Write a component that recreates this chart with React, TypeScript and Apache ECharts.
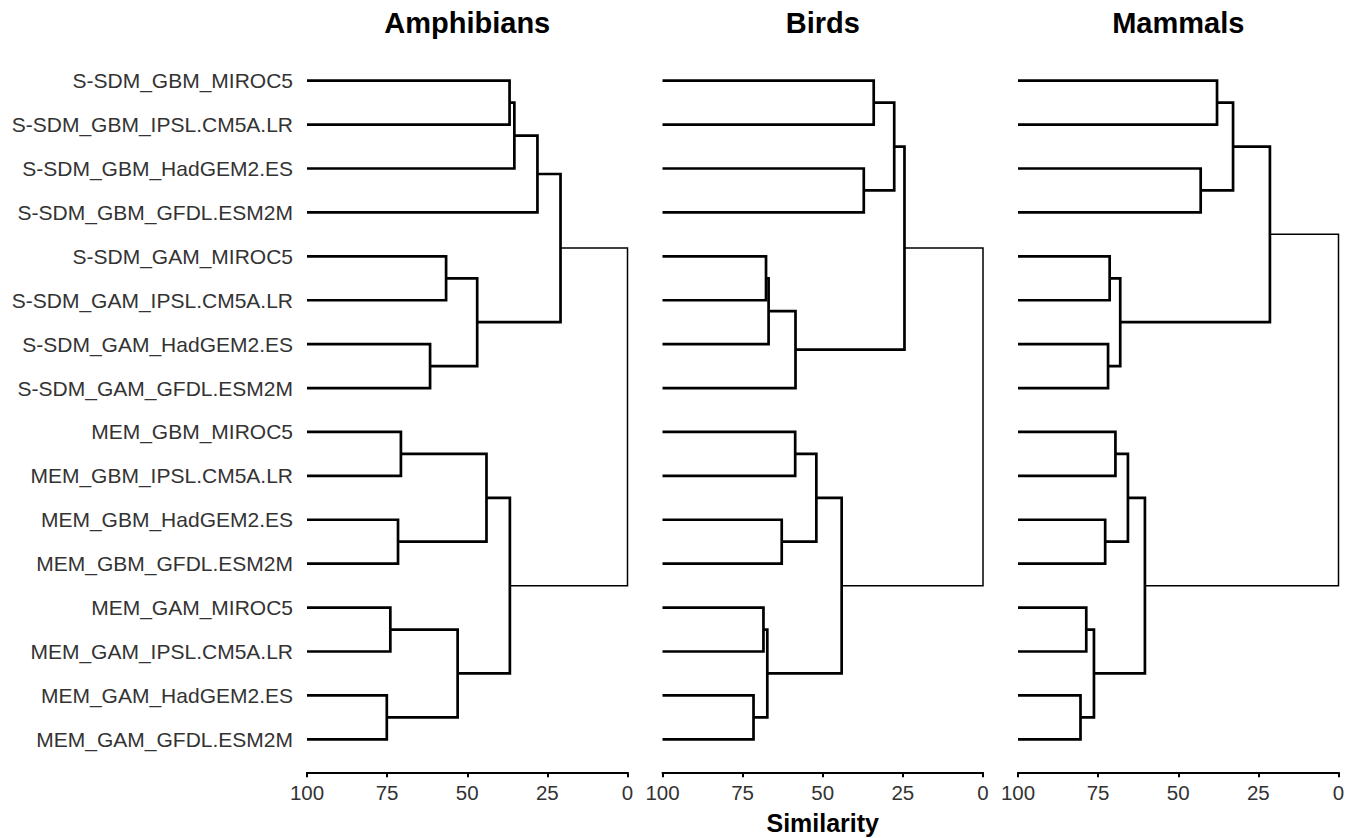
import React, { useEffect, useRef } from "react";
import * as echarts from "echarts";

const leafNames = [
  "S-SDM_GBM_MIROC5",
  "S-SDM_GBM_IPSL.CM5A.LR",
  "S-SDM_GBM_HadGEM2.ES",
  "S-SDM_GBM_GFDL.ESM2M",
  "S-SDM_GAM_MIROC5",
  "S-SDM_GAM_IPSL.CM5A.LR",
  "S-SDM_GAM_HadGEM2.ES",
  "S-SDM_GAM_GFDL.ESM2M",
  "MEM_GBM_MIROC5",
  "MEM_GBM_IPSL.CM5A.LR",
  "MEM_GBM_HadGEM2.ES",
  "MEM_GBM_GFDL.ESM2M",
  "MEM_GAM_MIROC5",
  "MEM_GAM_IPSL.CM5A.LR",
  "MEM_GAM_HadGEM2.ES",
  "MEM_GAM_GFDL.ESM2M",
];

const panelTitles = ["Amphibians", "Birds", "Mammals"];
const axisTitle = "Similarity";

// hclust-style merges: [childA, childB, similarity]; negative = leaf (1-based), positive = earlier merge row (1-based)
const amphibiansMerge: [number, number, number][] = [
  [-1, -2, 36.8],
  [1, -3, 35.3],
  [2, -4, 28.1],
  [-5, -6, 56.6],
  [-7, -8, 61.6],
  [4, 5, 46.9],
  [3, 6, 20.9],
  [-9, -10, 70.7],
  [-11, -12, 71.6],
  [8, 9, 44.0],
  [-13, -14, 74.0],
  [-15, -16, 75.1],
  [11, 12, 53.0],
  [10, 13, 36.7],
  [7, 14, 0],
];

const birdsMerge: [number, number, number][] = [
  [-1, -2, 34.1],
  [-3, -4, 37.2],
  [1, 2, 27.7],
  [-5, -6, 67.7],
  [4, -7, 66.9],
  [5, -8, 58.5],
  [3, 6, 24.5],
  [-9, -10, 58.6],
  [-11, -12, 62.8],
  [8, 9, 52.0],
  [-13, -14, 68.5],
  [-15, -16, 71.6],
  [11, 12, 67.3],
  [10, 13, 44.1],
  [7, 14, 0],
];

const mammalsMerge: [number, number, number][] = [
  [-1, -2, 37.9],
  [-3, -4, 43.0],
  [1, 2, 32.9],
  [-5, -6, 71.4],
  [-7, -8, 71.9],
  [4, 5, 68.1],
  [3, 6, 21.4],
  [-9, -10, 69.6],
  [-11, -12, 72.8],
  [8, 9, 65.7],
  [-13, -14, 78.7],
  [-15, -16, 80.5],
  [11, 12, 76.3],
  [10, 13, 60.4],
  [7, 14, 0],
];

const leafSimilarity = 100;

function buildLinks(merge: [number, number, number][]) {
  const pos: number[] = [];
  const hgt: number[] = [];
  const out: number[][] = [];
  merge.forEach(([a, b, h], i) => {
    const ya = a < 0 ? -a - 1 : pos[a - 1];
    const ha = a < 0 ? leafSimilarity : hgt[a - 1];
    const yb = b < 0 ? -b - 1 : pos[b - 1];
    const hb = b < 0 ? leafSimilarity : hgt[b - 1];
    pos[i] = (ya + yb) / 2;
    hgt[i] = h;
    out.push([ha, ya, h, yb, hb, i === merge.length - 1 ? 1 : 0]);
  });
  return out;
}

const FONT = "'Liberation Sans', Arial, Helvetica, sans-serif";

export default function App() {
  const ref = useRef<HTMLDivElement>(null);
  useEffect(() => {
    if (!ref.current) return;
    const chart = echarts.init(ref.current, undefined, { renderer: "svg" });
    const merges = [amphibiansMerge, birdsMerge, mammalsMerge];
    const lefts = [307, 662.5, 1018];
    const width = 320.5;
    const top = 80.7;
    const height = 658.6;

    const grids = lefts.map((l) => ({ left: l, top, width, height }));
    const xAxes = lefts.map((_, i) => ({
      type: "value",
      gridIndex: i,
      position: "bottom",
      inverse: true,
      min: 0,
      max: 100,
      interval: 25,
      offset: 33,
      axisLine: { show: true, onZero: false, lineStyle: { color: "#000", width: 2 } },
      axisTick: { show: true, length: 5, lineStyle: { color: "#000", width: 2 } },
      axisLabel: { color: "#333", fontSize: 20.5, fontFamily: FONT, margin: 10 },
      splitLine: { show: false },
    }));
    const yAxes = lefts.map((_, i) => ({
      type: "value",
      gridIndex: i,
      inverse: true,
      min: 0,
      max: 15,
      interval: 1,
      show: i === 0,
      axisLine: { show: false, onZero: false },
      axisTick: { show: false },
      splitLine: { show: false },
      axisLabel: {
        show: i === 0,
        color: "#333",
        fontSize: 21,
        fontFamily: FONT,
        margin: 14,
        formatter: (v: number) => leafNames[Math.round(v)] ?? "",
      },
    }));

    const series = merges.map((m, i) => ({
      type: "custom",
      xAxisIndex: i,
      yAxisIndex: i,
      clip: false,
      data: buildLinks(m),
      renderItem: (params: any, api: any) => {
        const ha = api.value(0);
        const ya = api.value(1);
        const h = api.value(2);
        const yb = api.value(3);
        const hb = api.value(4);
        const root = api.value(5) === 1;
        const pts = [
          api.coord([ha, ya]),
          api.coord([h, ya]),
          api.coord([h, yb]),
          api.coord([hb, yb]),
        ];
        return {
          type: "polyline",
          shape: { points: pts },
          style: {
            stroke: "#000",
            lineWidth: root ? 1.5 : 2.7,
            fill: "none",
            lineJoin: "miter",
            lineCap: "butt",
          },
        };
      },
      encode: { x: [0, 2, 4], y: [1, 3] },
    }));

    const graphics: any[] = panelTitles.map((t, i) => ({
      type: "text",
      x: lefts[i] + width / 2,
      y: 23,
      style: {
        text: t,
        fill: "#000",
        font: `bold 29px ${FONT}`,
        textAlign: "center",
        textVerticalAlign: "middle",
      },
    }));
    graphics.push({
      type: "text",
      x: lefts[1] + width / 2,
      y: 823,
      style: {
        text: axisTitle,
        fill: "#000",
        font: `bold 25px ${FONT}`,
        textAlign: "center",
        textVerticalAlign: "middle",
      },
    });

    chart.setOption({
      animation: false,
      backgroundColor: "#fff",
      grid: grids,
      xAxis: xAxes,
      yAxis: yAxes,
      series,
      graphic: graphics,
    });
    return () => chart.dispose();
  }, []);
  return (
    <div
      ref={ref}
      style={{ position: "fixed", left: 0, top: 0, width: 1357, height: 838 }}
    />
  );
}
